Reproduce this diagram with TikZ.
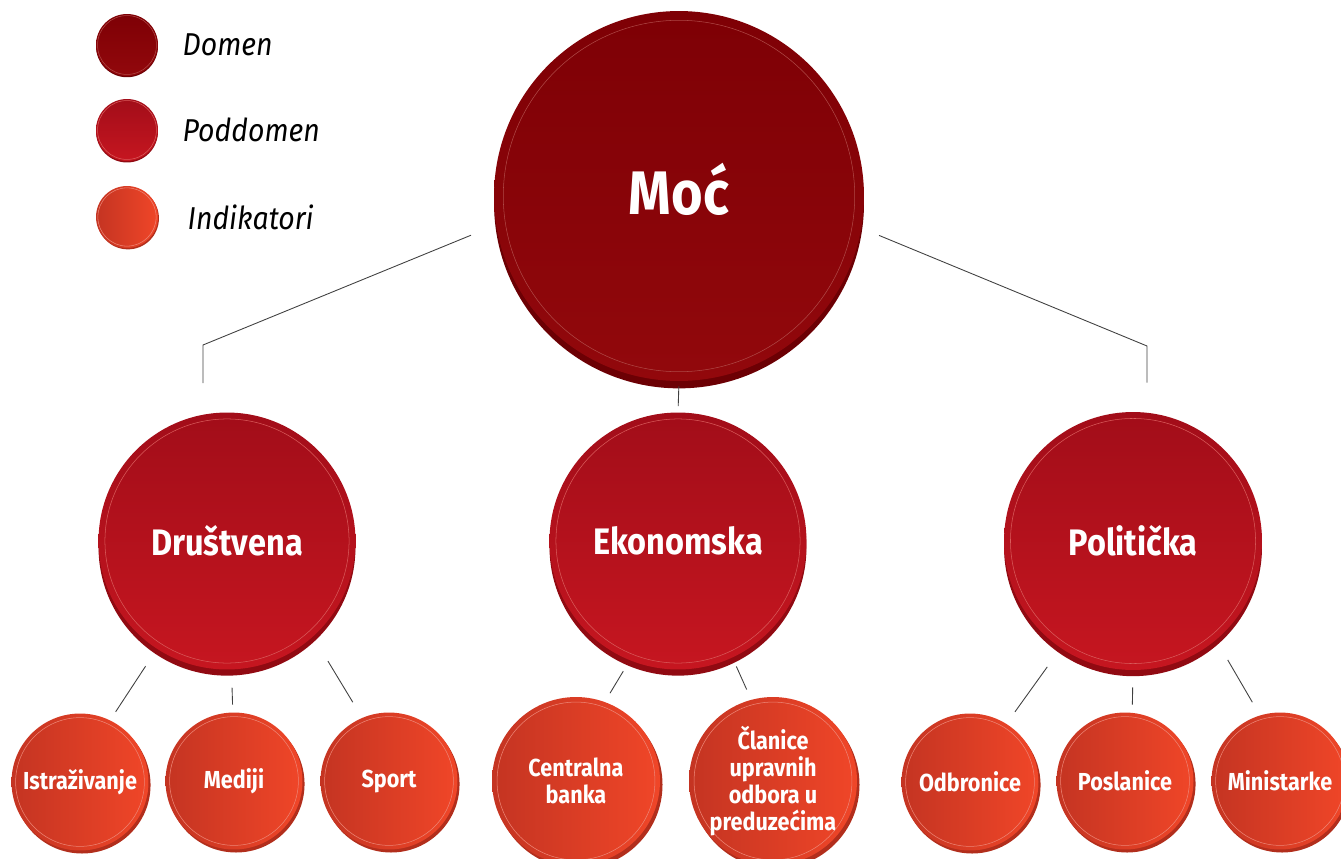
\documentclass[tikz,border=0pt]{standalone}
\usepackage{fontspec}
\setmainfont{Fira Sans}
\newfontfamily\condfont{Fira Sans}[FakeStretch=0.88]
\newfontfamily\legfont{Fira Sans}[FakeStretch=0.9]
\usetikzlibrary{positioning}
\definecolor{domtop}{RGB}{126,0,5}
\definecolor{dombot}{RGB}{146,8,12}
\definecolor{domrim}{RGB}{108,0,4}
\definecolor{podtop}{RGB}{162,13,25}
\definecolor{podbot}{RGB}{198,22,32}
\definecolor{podrim}{RGB}{145,10,18}
\definecolor{indleft}{RGB}{196,52,34}
\definecolor{indright}{RGB}{240,70,40}
\definecolor{indrim}{RGB}{178,46,28}
\definecolor{ringcol}{RGB}{236,160,150}
\tikzstyle{domen} = [circle, minimum size=#1, inner sep=0pt, top color=domtop, bottom color=dombot, text=white, font=\condfont\fontsize{35}{40}\selectfont\bfseries, preaction={fill=domrim, transform canvas={yshift=-0.02*#1}}, path picture={\draw[ringcol!45!domtop, line width=0.3pt] (path picture bounding box.center) circle [radius=0.475*#1];}]
\tikzstyle{poddomen} = [circle, minimum size=#1, inner sep=0pt, top color=podtop, bottom color=podbot, text=white, font=\condfont\fontsize{21}{24}\selectfont\bfseries, preaction={fill=podrim, transform canvas={yshift=-0.024*#1}}, path picture={\draw[ringcol!50!podbot, line width=0.3pt] (path picture bounding box.center) circle [radius=0.475*#1];}]
\tikzstyle{indikator} = [circle, minimum size=#1, inner sep=-8pt, left color=indleft, right color=indright, text=white, align=center, font=\condfont\fontsize{14}{15.5}\selectfont\bfseries, preaction={fill=indrim, transform canvas={xshift=0.015*#1, yshift=-0.022*#1}}, path picture={\draw[ringcol!70!indright, line width=0.3pt] (path picture bounding box.center) circle [radius=0.47*#1];}]
\tikzstyle{legtext} = [inner sep=0pt, font=\legfont\fontsize{18}{20}\selectfont\itshape]
\tikzstyle{link} = [draw=black!75, line width=0.5pt]

\begin{document}
\begin{tikzpicture}[x=0.02cm, y=-0.02cm]
\useasboundingbox (0,0) rectangle (1341,858);

\node (leg1) [domen=1.24cm] at (127,45) {};
\node (leg2) [poddomen=1.24cm] at (127,130) {};
\node (leg3) [indikator=1.24cm] at (127,217) {};
\node (ldom) [legtext, right=0.48cm of leg1] {Domen};
\node (lpod) [legtext, right=0.48cm of leg2] {Poddomen};
\node (lind) [legtext, right=0.58cm of leg3] {Indikatori};

\node (moc) [domen=7.4cm] at (679,196) {\raisebox{8pt}{Moć}};

\node (dru) [poddomen=5.14cm] at (227,541) {Društvena};
\node (eko) [poddomen=5.14cm] at (678,541) {Ekonomska};
\node (pol) [poddomen=5.16cm] at (1133,541) {Politička};

\node (ist) [indikator=2.74cm] at (80,782) {Istraživanje};
\node (med) [indikator=2.74cm] at (234,781) {Mediji};
\node (spo) [indikator=2.74cm] at (389,781) {Sport};
\node (cen) [indikator=3.36cm] at (576,781) {Centralna\\banka};
\node (cla) [indikator=3.36cm] at (773,781) {Članice\\upravnih\\odbora u\\preduzećima};
\node (odb) [indikator=2.74cm] at (970,782) {Odbronice};
\node (pos) [indikator=2.74cm] at (1125,781) {Poslanice};
\node (min) [indikator=2.74cm] at (1280,781) {Ministarke};

\coordinate (lelbow) at (203,345);
\coordinate (relbow) at (1147,346);

\draw [link, shorten <=0.54cm, shorten >=0.58cm] (moc.189.5) -- (lelbow) -- (lelbow |- dru.north);
\draw [link, shorten <=0.1cm, shorten >=0.12cm] (moc.south) -- (eko.north);
\draw [link, shorten <=0.38cm, shorten >=0.58cm] (moc.-10.2) -- (relbow) -- (relbow |- pol.north);

\draw [link, shorten <=0.41cm, shorten >=0.2cm] (dru.237.9) -- (ist.64.4);
\draw [link, shorten <=0.36cm, shorten >=0.15cm] (dru.-88) -- (med.91.5);
\draw [link, shorten <=0.57cm, shorten >=0.36cm] (dru.-48.4) -- (spo.113.9);
\draw [link, shorten <=0.25cm, shorten >=0.2cm] (eko.-112.4) -- (cen.70.8);
\draw [link, shorten <=0.19cm, shorten >=0.22cm] (eko.-65.7) -- (cla.105.2);
\draw [link, shorten <=0.46cm, shorten >=0.29cm] (pol.-124) -- (odb.58.2);
\draw [link, shorten <=0.34cm, shorten >=0.16cm] (pol.-90) -- (pos.84);
\draw [link, shorten <=0.46cm, shorten >=0.3cm] (pol.-50.3) -- (min.107.4);

\end{tikzpicture}
\end{document}
